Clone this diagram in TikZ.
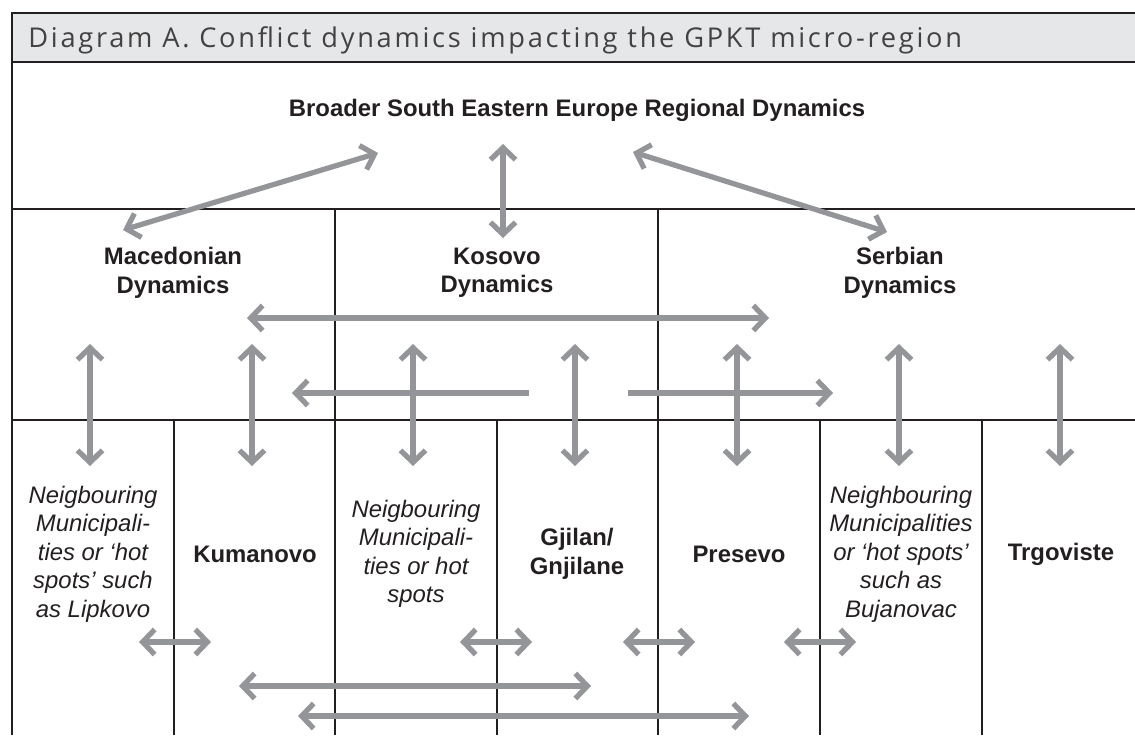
\documentclass[tikz,border=0pt]{standalone}
\usepackage{fontspec}
\setmainfont{Liberation Sans}
\newfontfamily\titlefont[LetterSpace=10]{Open Sans}
\usetikzlibrary{arrows.meta}

\definecolor{ink}{RGB}{35,31,32}
\definecolor{arrowgray}{RGB}{147,149,152}
\definecolor{barfill}{RGB}{230,231,232}

\tikzset{
  tip/.tip={Straight Barb[length=0.24cm,width=0.5cm]},
  link/.style={arrowgray,line width=3pt,tip-tip},
  oneway/.style={arrowgray,line width=3pt,-tip},
  region/.style={font=\bfseries\fontsize{13.6}{16.2}\selectfont,text=ink,align=center,inner sep=0pt},
  local/.style={font=\itshape\fontsize{13.6}{16.2}\selectfont,text=ink,align=center,inner sep=0pt},
  townname/.style={font=\bfseries\fontsize{13.6}{16.2}\selectfont,text=ink,align=center,inner sep=0pt},
  rule/.style={ink,line width=0.6pt},
}

\begin{document}
\begin{tikzpicture}[x=0.02cm,y=-0.02cm]
\useasboundingbox (0,0) rectangle (1135,735);

% frame and title bar
\fill[barfill] (12,13) rectangle (1135,62);
\draw[ink,line width=1.4pt] (12,735) -- (12,13) -- (1135,13);
\draw[ink,line width=1pt] (12,62) -- (1135,62);
\node[anchor=base west,inner sep=0pt,text=ink!85,font=\titlefont\fontsize{15.5}{18}\selectfont] (title) at (28,47)
  {Diagram A. Conflict dynamics impacting the GPKT micro-region};

% grid
\draw[rule] (12,209) -- (1135,209);
\draw[rule] (12,420) -- (1135,420);
\draw[rule] (335,209) -- (335,735);
\draw[rule] (658,209) -- (658,735);
\foreach \x in {174,497,820,982}
  \draw[rule] (\x,420) -- (\x,735);

% regional level
\node[region] (see) at (577,110) {Broader South Eastern Europe Regional Dynamics};

% national level
\node[region] (mac) at (173,273) {Macedonian\\Dynamics};
\node[region] (kos) at (497,273) {Kosovo\\Dynamics};
\node[region] (srb) at (900,273) {Serbian\\Dynamics};

% local level
\node[local] (lipkovo) at (93,554) {Neigbouring\\Municipali-\\ties or `hot\\spots' such\\as Lipkovo};
\node[townname] (kumanovo) at (255,554) {Kumanovo};
\node[local] (hotspots) at (416,554) {Neigbouring\\Municipali-\\ties or hot\\spots};
\node[townname] (gjilan) at (577,554) {Gjilan/\\Gnjilane};
\node[townname] (presevo) at (739,554) {Presevo};
\node[local] (bujanovac) at (901,554) {Neighbouring\\Municipalities\\or `hot spots'\\such as\\Bujanovac};
\node[townname] (trgoviste) at (1061,554) {Trgoviste};

% arrow ends
\coordinate (see-l) at (378,153);
\coordinate (see-c) at (503,144);
\coordinate (see-r) at (633,152);
\coordinate (mac-t) at (123,230);
\coordinate (kos-t) at (503,238);
\coordinate (srb-t) at (887,232);
\coordinate (nat-l) at (247,318);
\coordinate (nat-r) at (769,318);
\coordinate (kos-lt) at (529,393);
\coordinate (kos-lh) at (292,393);
\coordinate (kos-rt) at (628,393);
\coordinate (kos-rh) at (833,393);

\draw[link] (mac-t) -- (see-l);
\draw[link] (see-c) -- (kos-t);
\draw[link] (see-r) -- (srb-t);
\draw[link] (nat-l) -- (nat-r);
\draw[oneway] (kos-lt) -- (kos-lh);
\draw[oneway] (kos-rt) -- (kos-rh);

% national to local
\foreach \x [count=\i] in {90,252,413,575,737,899,1060}{
  \coordinate (up\i) at (\x,344);
  \coordinate (dn\i) at (\x,466);
  \draw[link] (up\i) -- (dn\i);
}

% between neighbours
\foreach \x [count=\i] in {175,496,659,820}{
  \coordinate (nb\i-l) at (\x-36,642);
  \coordinate (nb\i-r) at (\x+36,642);
  \draw[link] (nb\i-l) -- (nb\i-r);
}
\coordinate (far1-l) at (239,686);
\coordinate (far1-r) at (591,686);
\coordinate (far2-l) at (298,716);
\coordinate (far2-r) at (749,716);
\draw[link] (far1-l) -- (far1-r);
\draw[link] (far2-l) -- (far2-r);

\end{tikzpicture}
\end{document}
